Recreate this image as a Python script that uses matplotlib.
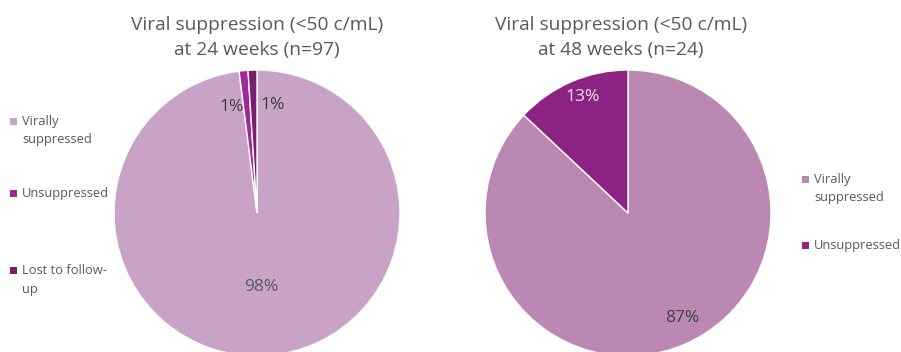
import numpy as np
import matplotlib.pyplot as plt
from matplotlib.patches import Rectangle

plt.rcParams['font.family'] = ['Open Sans', 'DejaVu Sans']

# Data
left_title = "Viral suppression (<50 c/mL)\nat 24 weeks (n=97)"
left_labels = ["Virally\nsuppressed", "Unsuppressed", "Lost to follow-\nup"]
left_values = [98, 1, 1]
left_colors = ["#C9A3C6", "#A2289A", "#7A1E6E"]

right_title = "Viral suppression (<50 c/mL)\nat 48 weeks (n=24)"
right_labels = ["Virally\nsuppressed", "Unsuppressed"]
right_values = [87, 13]
right_colors = ["#BB88B4", "#8C2383"]

W, H = 901, 352
fig = plt.figure(figsize=(W / 100, H / 100), dpi=100)


def pie_axes(cx, cy, r):
    return fig.add_axes([(cx - r) / W, (H - cy - r) / H, 2 * r / W, 2 * r / H])


def draw_pie(ax, values, colors, label_r, angle_offsets, text_colors):
    wedges, _ = ax.pie(values, colors=colors, startangle=90, counterclock=False,
                       wedgeprops=dict(edgecolor="white", linewidth=1.0))
    ax.set_xlim(-1, 1)
    ax.set_ylim(-1, 1)
    ax.set_aspect("equal")
    ax.axis("off")
    for w, v, rr, off, tc in zip(wedges, values, label_r, angle_offsets, text_colors):
        w.set_clip_on(False)
        ang = np.deg2rad((w.theta1 + w.theta2) / 2 + off)
        ax.text(rr * np.cos(ang), rr * np.sin(ang), f"{v}%", ha="center", va="center",
                fontsize=12.5, color=tc, clip_on=False)
    return wedges


axL = pie_axes(257, 213, 143)
wL = draw_pie(axL, left_values, left_colors, [0.52, 0.76, 0.76], [0, 8, -10],
              ["#595959", "#404040", "#404040"])
axR = pie_axes(628, 213, 143)
wR = draw_pie(axR, right_values, right_colors, [0.83, 0.87], [4, -2],
              ["#404040", "#F2E0F0"])

fig.text(257 / W, 1 - 38 / H, left_title, ha="center", va="center", fontsize=13.8,
         color="#595959", linespacing=1.5)
fig.text(621 / W, 1 - 38 / H, right_title, ha="center", va="center", fontsize=13.8,
         color="#595959", linespacing=1.5)


def legend(x, ys, labels, colors):
    for y, lab, c in zip(ys, labels, colors):
        fig.patches.append(Rectangle(((x) / W, 1 - (y + 3.5) / H), 7 / W, 7 / H,
                                     transform=fig.transFigure, facecolor=c,
                                     edgecolor="none"))
        fig.text((x + 12) / W, 1 - (y - 6) / H, lab, ha="left", va="top", fontsize=9.3,
                 color="#595959", linespacing=1.55)


legend(10, [121, 193, 270], left_labels, left_colors)
legend(802, [179, 245], right_labels, right_colors)

fig.savefig("out.png", dpi=100, facecolor="white")
